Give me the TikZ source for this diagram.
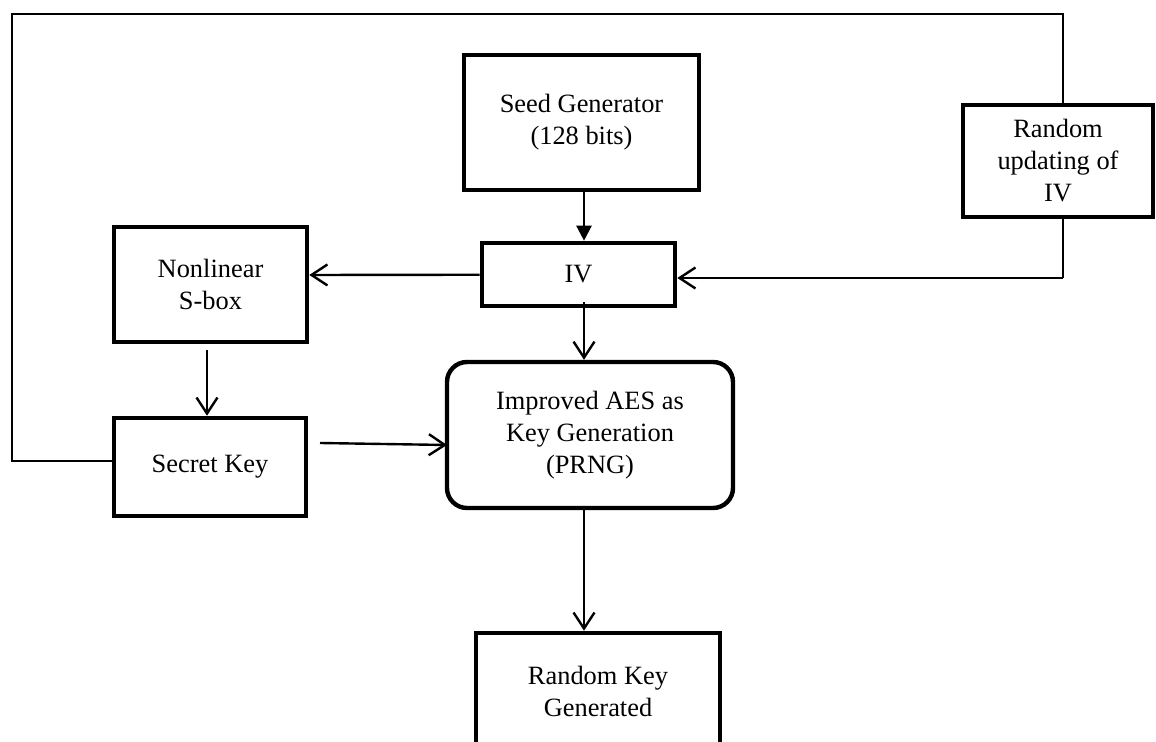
\documentclass[tikz,border=0pt]{standalone}
\usepackage{fontspec}
\setmainfont{Liberation Serif}
\usetikzlibrary{arrows.meta}

\begin{document}
\begin{tikzpicture}[x=0.5pt,y=-0.5pt,
  every node/.style={font=\fontsize{13.2}{16}\selectfont, align=center, inner sep=0pt},
  blk/.style={draw, line width=2.3pt, rectangle},
  rblk/.style={draw, line width=2.2pt, rectangle, rounded corners=10pt},
  flow/.style={line width=1.2pt, -{Straight Barb[length=8pt,width=10.5pt]}},
  feed/.style={line width=1.2pt, -{Triangle[length=7.5pt,width=7.5pt]}},
  loopline/.style={line width=1pt}]

\useasboundingbox (0,0) rectangle (1156,742);
\clip (0,0) rectangle (1156,742);

% blocks
\node[blk, minimum width=117.5pt, minimum height=67.5pt] (seed) at (581.5,122.5) {Seed Generator\\(128 bits)};
\node[blk, minimum width=95pt, minimum height=56pt] (upd) at (1058,161) {Random\\updating of\\IV};
\node[blk, minimum width=96.5pt, minimum height=31.5pt] (iv) at (578.5,274.5) {IV};
\node[blk, minimum width=96.5pt, minimum height=57.5pt] (sbox) at (210.5,284.5) {Nonlinear\\S-box};
\node[blk, minimum width=96pt, minimum height=49pt] (key) at (210,467) {Secret Key};
\node[rblk, minimum width=143pt, minimum height=73pt] (aes) at (590,435) {Improved AES as\\Key Generation\\(PRNG)};
\node[blk, minimum width=122pt, minimum height=58.5pt] (out) at (598,691.5) {Random Key\\Generated};

% guide coordinates for the connectors
\coordinate (spine) at (584,0);
\coordinate (sdown) at (207,0);
\coordinate (loopL) at (12,14);
\coordinate (loopR) at (1063,14);
\coordinate (ivin) at (1063,278);
\coordinate (keyout) at (320,443);
\coordinate (aesin) at (447,445);
\coordinate (sboxout) at (207,350);

% main flow
\draw[feed] (seed.south -| spine) -- (iv.north -| spine);
\draw[flow] ([yshift=3pt]iv.south -| spine) -- (aes.north -| spine);
\draw[flow] (aes.south -| spine) -- (out.north -| spine);
\draw[flow] (iv.west) ++(0,0.25) -- (sbox.east |- 0,275);
\draw[flow] (sboxout) -- (key.north -| sdown);
\draw[flow] (keyout) -- (aesin);

% feedback loop through the IV update
\draw[loopline] (key.west |- 0,461) -| (loopL) -- (loopR) -- (upd.north -| loopR);
\draw[loopline] (upd.south -| loopR) -- (ivin);
\draw[flow] (ivin) -- (iv.east |- ivin);
\end{tikzpicture}
\end{document}
